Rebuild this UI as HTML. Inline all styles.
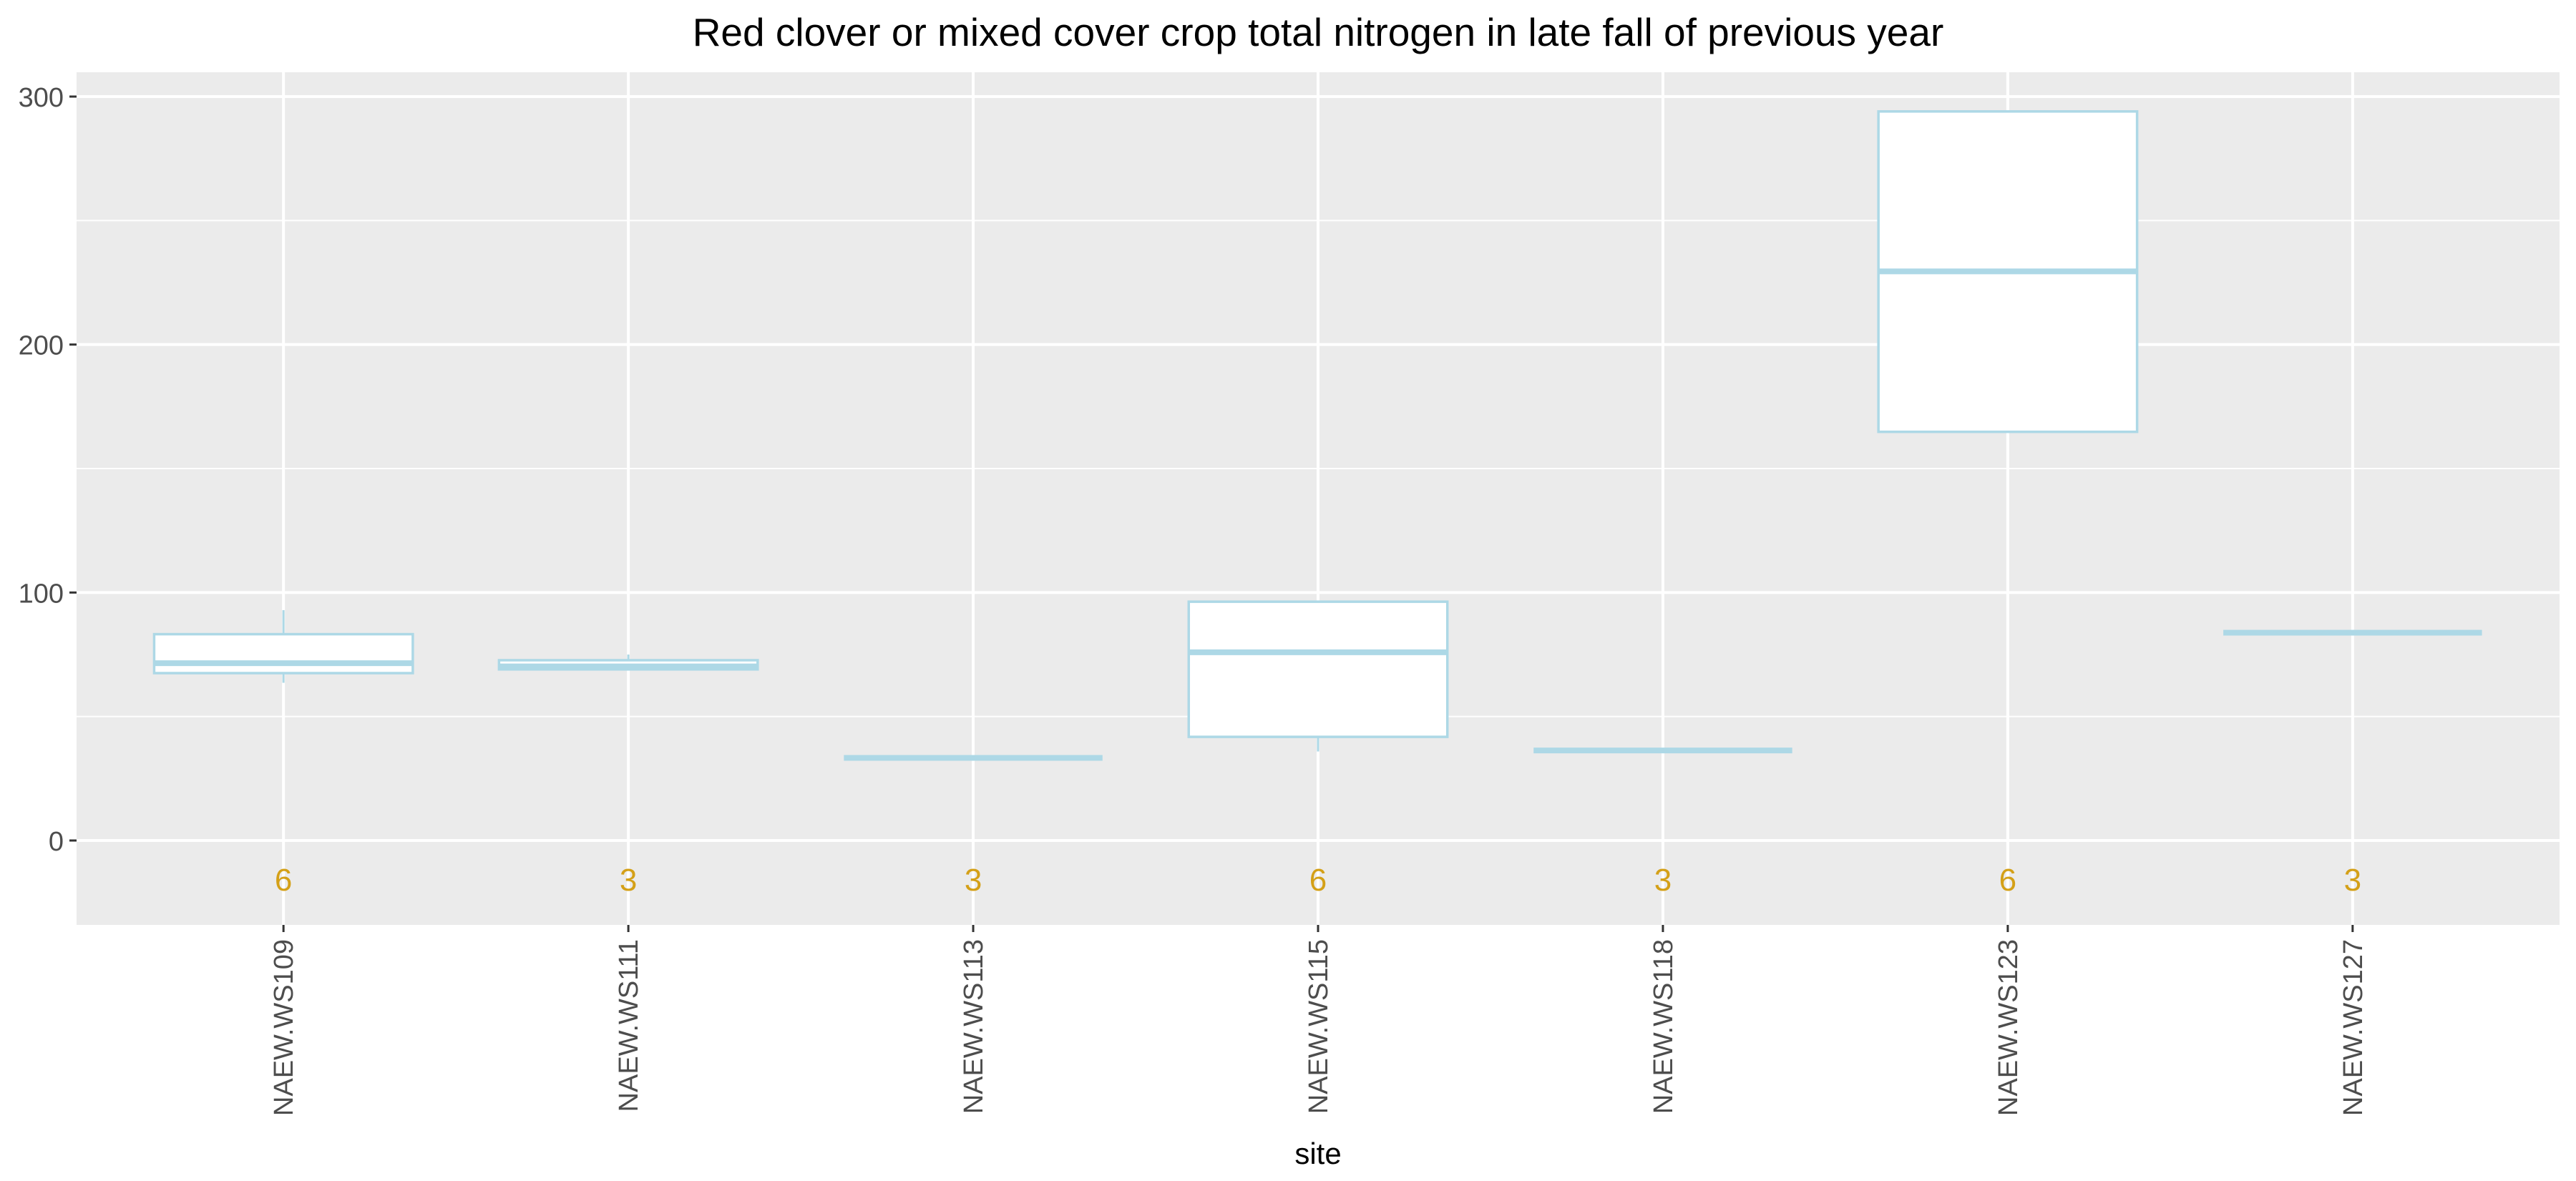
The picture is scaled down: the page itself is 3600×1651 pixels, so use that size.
<!DOCTYPE html>
<html><head><meta charset="utf-8"><style>html,body{margin:0;padding:0;background:#fff}</style></head>
<body>
<svg id="chart" width="3600" height="1646" xmlns="http://www.w3.org/2000/svg" font-family="Liberation Sans, sans-serif">
<rect width="3600" height="1646" fill="#fff"/>
<text x="1842" y="64" font-size="55" text-anchor="middle" fill="#000">Red clover or mixed cover crop total nitrogen in late fall of previous year</text>
<rect x="107" y="101" width="3470" height="1192" fill="#EBEBEB"/>
<g id="grid"></g>
<g id="boxes"></g>
<g id="axes"></g>
<text x="1842" y="1627" font-size="42" text-anchor="middle" fill="#000">site</text>
</svg>
<script>
const sites = ["NAEW.WS109","NAEW.WS111","NAEW.WS113","NAEW.WS115","NAEW.WS118","NAEW.WS123","NAEW.WS127"];
const whiskerLow = [63.6,69,33.3,35.9,36.3,164.8,83.8];
const q1 = [67.5,69,33.3,41.8,36.3,164.8,83.8];
const medians = [71.5,70.2,33.3,75.9,36.3,229.5,83.8];
const q3 = [83.2,72.7,33.3,96.3,36.3,294,83.8];
const whiskerHigh = [92.9,75,33.3,96.3,36.3,294,83.8];
const counts = ["6","3","3","6","3","6","3"];
const yTicks = [0,100,200,300];
const yMinor = [50,150,250];

const NS="http://www.w3.org/2000/svg";
const px0=107, px1=3577, py0=101, py1=1293;
const y = v => 1175 - v*(1040/300);
const step = (px1-px0)/(sites.length-1+1.2);
const x = i => px0 + step*(i+0.6);
const bw = step*0.75;
function mk(tag, attrs, parent){const e=document.createElementNS(NS,tag);for(const k in attrs)e.setAttribute(k,attrs[k]);parent.appendChild(e);return e;}
const grid=document.getElementById('grid'), boxes=document.getElementById('boxes'), axes=document.getElementById('axes');
yMinor.forEach(v=>{const l=mk('line',{x1:px0,x2:px1,y1:y(v),y2:y(v),stroke:'#fff','stroke-width':2},grid);

});
yTicks.forEach(v=>{const l=mk('line',{x1:px0,x2:px1,y1:y(v),y2:y(v),stroke:'#fff','stroke-width':4},grid);


const t=mk('line',{x1:px0-10,x2:px0,y1:y(v),y2:y(v),stroke:'#333','stroke-width':3},axes);


const tx=mk('text',{x:px0-18,y:y(v)+14,'font-size':38,'text-anchor':'end',fill:'#4D4D4D'},axes);tx.textContent=v;

});
sites.forEach((s,i)=>{
const cx=x(i);
const g=mk('line',{x1:cx,x2:cx,y1:py0,y2:py1,stroke:'#fff','stroke-width':4},grid);


const grp=mk('g',{},boxes);


mk('line',{x1:cx,x2:cx,y1:y(whiskerHigh[i]),y2:y(q3[i]),stroke:'#ADD8E6','stroke-width':3},grp);
mk('line',{x1:cx,x2:cx,y1:y(q1[i]),y2:y(whiskerLow[i]),stroke:'#ADD8E6','stroke-width':3},grp);
mk('rect',{x:cx-bw/2,y:y(q3[i]),width:bw,height:Math.max(0,y(q1[i])-y(q3[i])),fill:'#fff',stroke:'#ADD8E6','stroke-width':3.5},grp);
mk('line',{x1:cx-bw/2,x2:cx+bw/2,y1:y(medians[i]),y2:y(medians[i]),stroke:'#ADD8E6','stroke-width':8},grp);
const c=mk('text',{x:cx,y:1245,'font-size':44,'text-anchor':'middle',fill:'#D4A017'},boxes);c.textContent=counts[i];


const t=mk('line',{x1:cx,x2:cx,y1:py1,y2:py1+10,stroke:'#333','stroke-width':3},axes);


const tx=mk('text',{x:0,y:0,'font-size':38,'text-anchor':'end',fill:'#4D4D4D',transform:`translate(${cx+13},${py1+20}) rotate(-90)`},axes);tx.textContent=s;


});
</script>
</body></html>
